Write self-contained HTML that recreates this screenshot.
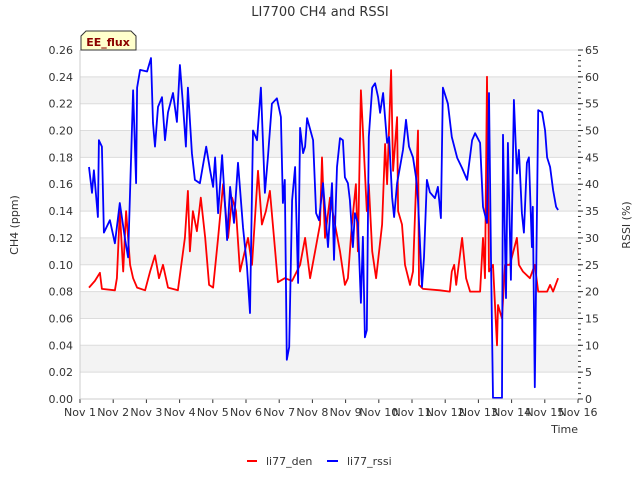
<!DOCTYPE html>
<html><head><meta charset="utf-8"><style>
body{margin:0;background:#fff;font-family:"Liberation Sans","DejaVu Sans",sans-serif}
svg text{font-family:"DejaVu Sans","Liberation Sans",sans-serif}
</style></head><body>
<svg id="chart" width="640" height="480" xmlns="http://www.w3.org/2000/svg">
<text x="320" y="16" text-anchor="middle" font-size="13" fill="#333">LI7700 CH4 and RSSI</text>
<g id="bands"></g><g id="grid"></g>
<g id="series"></g>
<g id="axes"></g>
<g>
<path d="M81,36 L86,31 L131,31 L136,36 L136,50 L81,50 Z" fill="#ffffcc" stroke="#333" stroke-width="1"/>
<text x="108" y="46" text-anchor="middle" font-size="11" font-weight="bold" fill="#8b0000">EE_flux</text>
</g>
<text transform="translate(18,225) rotate(-90)" text-anchor="middle" font-size="11" fill="#333">CH4 (ppm)</text>
<text transform="translate(630,225) rotate(-90)" text-anchor="middle" font-size="11" fill="#333">RSSI (%)</text>
<text x="578" y="433" text-anchor="end" font-size="11" fill="#333">Time</text>
<g>
<line x1="247" y1="461" x2="257" y2="461" stroke="#ff0000" stroke-width="2"/>
<text x="266" y="465" font-size="11" fill="#333">li77_den</text></g>
<g>
<line x1="327" y1="461" x2="338" y2="461" stroke="#0000ff" stroke-width="2"/>
<text x="347" y="465" font-size="11" fill="#333">li77_rssi</text></g>
</svg>
<script>
const xTicks=["Nov 1","Nov 2","Nov 3","Nov 4","Nov 5","Nov 6","Nov 7","Nov 8","Nov 9","Nov 10","Nov 11","Nov 12","Nov 13","Nov 14","Nov 15","Nov 16"];
const leftTicks=[0,0.02,0.04,0.06,0.08,0.10,0.12,0.14,0.16,0.18,0.20,0.22,0.24,0.26];
const rightTicks=[0,5,10,15,20,25,30,35,40,45,50,55,60,65];
const denT=[.27,.45,.6,.66,1.05,1.11,1.2,1.3,1.39,1.51,1.6,1.72,1.96,2.11,2.26,2.38,2.5,2.65,2.95,3.16,3.25,3.31,3.4,3.52,3.64,3.77,3.89,4.01,4.16,4.31,4.46,4.58,4.7,4.82,5.06,5.18,5.36,5.48,5.6,5.72,5.96,6.17,6.39,6.63,6.78,6.93,7.08,7.23,7.29,7.38,7.53,
7.83,7.98,8.07,8.19,8.31,8.37,8.46,8.52,8.64,8.70,8.80,8.92,9.10,9.19,9.25,9.37,9.43,9.55,9.58,9.70,9.79,9.94,10.03,10.18,10.21,10.33,10.84,11.14,11.20,11.27,11.33,11.51,11.63,11.75,11.90,12.05,12.14,12.20,12.26,12.32,12.44,12.56,12.59,12.71,12.80,12.95,13.16,13.22,13.34,13.55,13.70,13.80,14.07,14.16,14.25,14.40];
const denV=[.083,.088,.094,.082,.081,.09,.14,.095,.14,.1,.09,.083,.081,.095,.107,.09,.1,.083,.081,.12,.155,.11,.14,.125,.15,.12,.085,.083,.12,.16,.12,.15,.14,.095,.12,.1,.17,.13,.14,.155,.087,.09,.088,.1,.12,.09,.11,.13,.18,.12,.15,
.11,.085,.09,.13,.16,.11,.23,.2,.14,.16,.11,.09,.13,.19,.16,.245,.17,.21,.14,.13,.1,.085,.095,.2,.085,.082,.081,.08,.095,.1,.085,.12,.09,.08,.08,.08,.12,.09,.24,.095,.1,.04,.07,.06,.1,.1,.12,.1,.095,.09,.1,.08,.08,.085,.08,.09];
const rssiT=[.27,.36,.42,.54,.57,.66,.72,.90,1.05,1.20,1.36,1.45,1.60,1.69,1.72,1.81,2.02,2.14,2.20,2.26,2.35,2.47,2.56,2.65,2.80,2.92,3.01,3.10,3.19,3.25,3.37,3.46,3.61,3.80,3.92,4.01,4.07,4.16,4.28,4.43,4.52,4.64,4.76,4.91,5.03,5.12,5.21,5.33,5.45,5.57,5.66,5.78,5.93,6.05,6.11,6.17,6.23,6.30,6.39,6.48,6.57,6.63,6.72,6.78,6.84,7.02,7.11,7.20,7.32,7.47,
7.59,7.65,7.74,7.83,7.92,7.98,8.07,8.13,8.22,8.28,8.37,8.46,8.52,8.58,8.64,8.70,8.80,8.89,8.98,9.04,9.13,9.25,9.31,9.40,9.46,9.55,9.64,9.73,9.82,9.91,10.03,10.12,10.18,10.30,10.36,10.45,10.54,10.69,10.78,10.87,10.93,11.08,11.20,11.36,11.51,11.66,11.81,11.90,12.05,12.14,12.26,12.32,12.38,12.44,12.71,12.74,12.83,12.89,12.98,13.07,13.16,13.22,13.31,13.37,13.46,13.52,13.61,13.64,13.70,13.80,13.92,14.01,14.07,14.16,14.25,14.34,14.40];
const rssiV=[43.2,38.4,42.6,33.9,48.2,47,31,33.3,29,36.5,29.6,26.4,57.5,40.2,58,61.3,61,63.5,51.4,47,54.4,56.2,48.2,53.4,57,51.6,62.2,55,47,58,45.8,40.8,40.2,47,42.6,39.5,45,34.6,45.4,29.6,39.5,32.8,44,32,24.6,16,50,48.2,58,38.4,45,55,56,52.5,36.5,40.8,7.3,9.7,37,43.2,21.6,50.5,45.8,47,52.3,48.2,34.6,33.3,40.2,28.3,
40.2,25.9,43.2,48.6,48.2,41.3,40.2,37,28.3,34.6,32.8,17.9,30.2,11.5,12.8,48.8,58,58.8,56.2,53.3,57,47.7,48.8,37.6,33.9,40.2,43.2,46.4,52,47,45,41.3,37,20.9,26.4,40.8,38.5,37.4,39.5,33.7,58,55,48.8,44.9,43,40.8,48.2,49.5,47.7,35.8,32.8,57,25.9,0.2,0.2,49.2,18.8,47.7,22.2,55.7,42,46.4,34.6,31,44,45,28.3,35.8,2.2,53.8,53.4,50,45,43.2,38.9,35.8,35.2];
const NS="http://www.w3.org/2000/svg";
const L=80,R=578,T=50,B=399;
const xS=t=>L+t*(R-L)/15;
const yL=v=>B-v*(B-T)/0.26;
const yR=v=>B-v*(B-T)/65;
function mk(tag,attrs,parent){const e=document.createElementNS(NS,tag);for(const k in attrs)e.setAttribute(k,attrs[k]);parent.appendChild(e);return e;}
const bands=document.getElementById('bands'),grid=document.getElementById('grid'),axes=document.getElementById('axes'),series=document.getElementById('series');
for(let i=1;i<leftTicks.length-1;i+=2){
  const r=mk('rect',{x:L,y:yL(leftTicks[i+1]),width:R-L,height:yL(leftTicks[i])-yL(leftTicks[i+1]),fill:'#f3f3f3'},bands);
  
  
}
leftTicks.forEach(v=>{
  const y=yL(v);
  const g=mk('line',{x1:L,x2:R,y1:y,y2:y,stroke:'#dcdcdc','stroke-width':1},grid);
  
  
  const t=mk('text',{x:L-7,y:y+4,'text-anchor':'end','font-size':11,fill:'#333'},axes);
  t.textContent=v.toFixed(2);
  
  
});
rightTicks.forEach(v=>{
  const y=yR(v);
  mk('line',{x1:R,x2:R+5,y1:y,y2:y,stroke:'#333'},axes);
  const t=mk('text',{x:R+7,y:y+4,'font-size':11,fill:'#333'},axes);
  t.textContent=v;
  
  
});
for(let v=0;v<=65;v++){mk('line',{x1:R,x2:R+3,y1:yR(v),y2:yR(v),stroke:'#333'},axes);}
xTicks.forEach((s,i)=>{
  const x=xS(i);
  mk('line',{x1:x,x2:x,y1:B,y2:B+4,stroke:'#333'},axes);
  const t=mk('text',{x:x,y:B+17,'text-anchor':'middle','font-size':11,fill:'#333'},axes);
  t.textContent=s;
  
  
});
mk('line',{x1:L,x2:L,y1:T,y2:B,stroke:'#ccc'},axes);
mk('line',{x1:L,x2:R,y1:B,y2:B,stroke:'#ccc'},axes);
const pd=denT.map((t,i)=>(i?'L':'M')+xS(t).toFixed(1)+','+yL(denV[i]).toFixed(1)).join('');
const p1=mk('path',{d:pd,fill:'none',stroke:'#ff0000','stroke-width':1.8,'stroke-linejoin':'round'},series);


const pr=rssiT.map((t,i)=>(i?'L':'M')+xS(t).toFixed(1)+','+yR(rssiV[i]).toFixed(1)).join('');
const p2=mk('path',{d:pr,fill:'none',stroke:'#0000ff','stroke-width':1.8,'stroke-linejoin':'round'},series);


</script>
</body></html>
